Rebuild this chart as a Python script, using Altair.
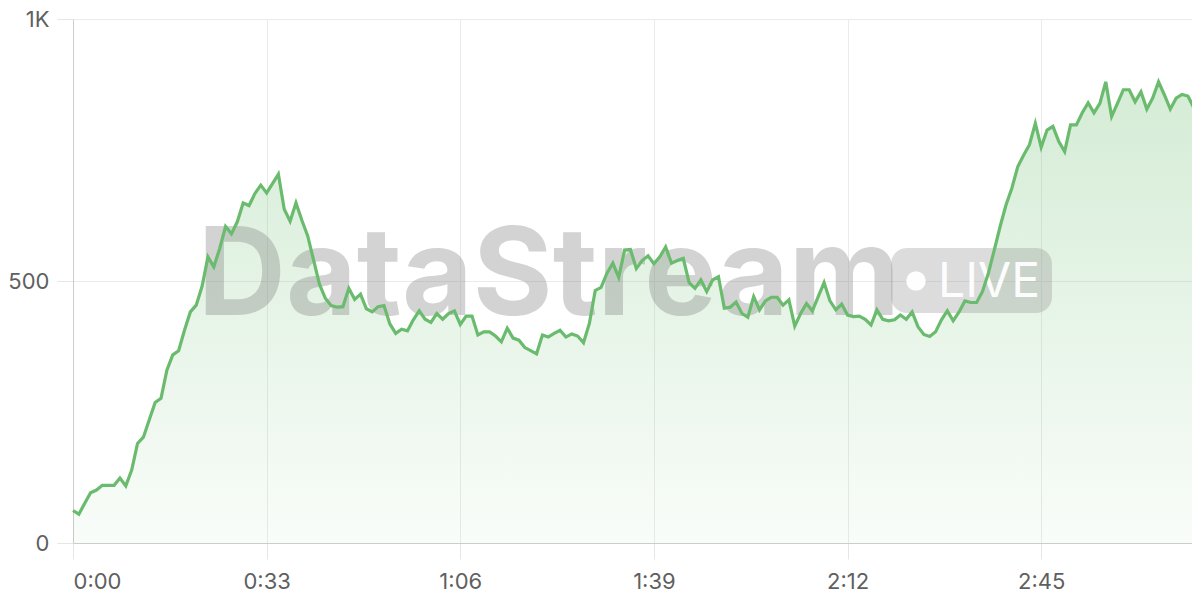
import altair as alt
import pandas as pd

# ---- data ----
seconds = list(range(192))
active_users = [
    62, 55, 76, 96, 101, 110, 110, 110, 124, 109,
    139, 190, 202, 235, 268, 276, 330, 359, 367, 406,
    441, 454, 490, 546, 527, 562, 604, 590, 613, 649,
    644, 667, 683, 668, 686, 704, 637, 614, 649, 616,
    586, 540, 494, 467, 453, 450, 451, 486, 465, 475,
    447, 441, 451, 453, 418, 400, 408, 405, 426, 443,
    427, 421, 438, 427, 438, 443, 417, 433, 433, 397,
    403, 403, 395, 384, 410, 391, 387, 373, 367, 361,
    397, 393, 400, 406, 393, 399, 395, 382, 419, 482,
    488, 515, 534, 507, 559, 560, 524, 539, 548, 533,
    546, 565, 534, 539, 543, 497, 486, 502, 480, 502,
    508, 448, 450, 460, 438, 431, 470, 445, 462, 469,
    469, 454, 464, 414, 438, 457, 443, 470, 497, 462,
    445, 456, 435, 432, 433, 427, 416, 445, 427, 424,
    426, 435, 427, 441, 413, 398, 394, 403, 426, 443,
    424, 441, 462, 459, 459, 480, 515, 559, 604, 645,
    677, 718, 740, 760, 801, 755, 788, 795, 766, 747,
    798, 798, 821, 840, 821, 839, 880, 814, 839, 865,
    865, 842, 861, 828, 849, 880, 855, 828, 849, 856,
    853, 831,
]
x_ticks = [0, 33, 66, 99, 132, 165]
y_ticks = [0, 500, 1000]
watermark_text = ["DataStream"]
badge_text = ["LIVE"]

df = pd.DataFrame({"t": seconds, "v": active_users})
one = pd.DataFrame({"k": [0]})

GREEN = "#6abb6e"

x_enc = alt.X(
    "t:Q",
    scale=alt.Scale(domain=[0, 190.7], nice=False, zero=False),
    axis=alt.Axis(
        values=x_ticks,
        title=None,
        labelExpr="floor(datum.value/60) + ':' + (datum.value % 60 < 10 ? '0' : '') + (datum.value % 60)",
        labelPadding=12,
    ),
)
y_enc = alt.Y(
    "v:Q",
    scale=alt.Scale(domain=[0, 1000], nice=False),
    axis=alt.Axis(
        values=y_ticks,
        title=None,
        labelExpr="datum.value >= 1000 ? (datum.value/1000) + 'K' : '' + datum.value",
        labelPadding=8,
    ),
)

area = alt.Chart(df).mark_area(
    color=alt.Gradient(
        gradient="linear",
        stops=[
            alt.GradientStop(color="rgba(102,187,106,0.04)", offset=0),
            alt.GradientStop(color="rgba(102,187,106,0.28)", offset=1),
        ],
        x1=0, x2=0, y1=1, y2=0,
    )
).encode(x=x_enc, y=y_enc)

wm = alt.Chart(pd.DataFrame({"label": watermark_text})).mark_text(
    font="Inter", fontSize=122, fontWeight="bold", color="#7a7a7a", opacity=0.32,
    align="center", baseline="alphabetic",
).encode(text="label:N", x=alt.value(476), y=alt.value(296))

badge = alt.Chart(one).mark_rect(
    cornerRadius=16, color="#8a8a8a", opacity=0.3
).encode(x=alt.value(818), x2=alt.value(979), y=alt.value(229), y2=alt.value(294))

dot = alt.Chart(one).mark_circle(
    size=380, color="white", opacity=0.95
).encode(x=alt.value(843), y=alt.value(262))

live = alt.Chart(pd.DataFrame({"label": badge_text})).mark_text(
    font="Inter", fontSize=48, fontWeight=400, color="white", opacity=0.95,
    align="left", baseline="alphabetic",
).encode(text="label:N", x=alt.value(865), y=alt.value(278))

line = alt.Chart(df).mark_line(color=GREEN, strokeWidth=3.2).encode(x=x_enc, y=y_enc)

chart = (
    alt.layer(area, wm, badge, dot, live, line)
    .properties(
        width=1119,
        height=524,
        autosize=alt.AutoSizeParams(type="none"),
        padding={"left": 65, "top": 11, "right": 0, "bottom": 49},
    )
    .configure_view(stroke=None)
    .configure_axis(
        grid=True,
        gridColor="#ebebeb",
        gridWidth=1,
        domainColor="#cccccc",
        domainWidth=1,
        tickColor="#e6e6e6",
        tickSize=16,
        labelFont="Inter",
        labelFontSize=22,
        labelColor="#5f5f5f",
    )
)

chart.save("out.html", embed_options={"renderer": "svg", "actions": False})
